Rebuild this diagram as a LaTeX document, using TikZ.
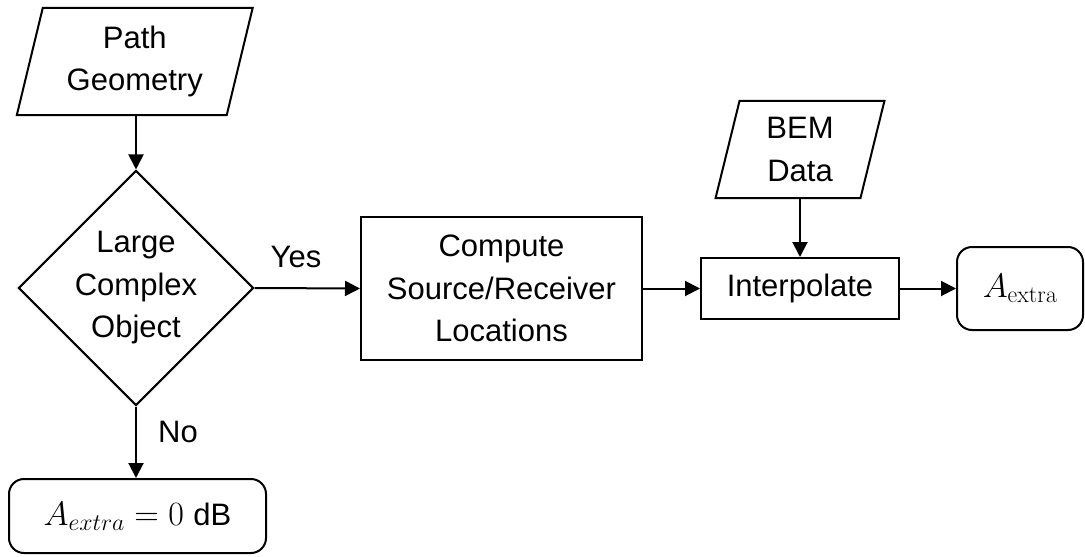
\RequirePackage{fix-cm}
\documentclass[tikz,border=0pt]{standalone}
\usepackage[no-math]{fontspec}
\setmainfont{Liberation Sans}
\usetikzlibrary{shapes.geometric,arrows.meta}
\begin{document}
\begin{tikzpicture}[x=1pt,y=-1pt,
  every node/.style={font=\fontsize{31}{42.5}\selectfont, align=center, inner sep=0pt},
  mathfont/.style={font=\fontsize{34}{42.5}\selectfont},
  box/.style={draw, line width=2pt, rectangle},
  rbox/.style={box, rounded corners=15pt},
  iobox/.style={rectangle, draw=none},
  iopoly/.style={line width=2pt, line join=miter},
  dec/.style={draw, line width=2pt, diamond, aspect=1},
  arr/.style={line width=2pt, -{Triangle[length=15pt,width=15pt]}},
  lbl/.style={}]
\useasboundingbox (0,0) rectangle (1085,557);

% nodes
\node[iobox, minimum width=209.5pt, minimum height=107pt] (pg) at (134.75,61.5) {Path\\Geometry};
\draw[iopoly] ([xshift=-13pt]pg.south west) -- ([xshift=13pt]pg.north west) -- ([xshift=13pt]pg.north east) -- ([xshift=-13pt]pg.south east) -- cycle;

\node[dec, minimum width=231pt, minimum height=230pt] (dia) at (136,288) {Large\\Complex\\Object};

\node[box, minimum width=281pt, minimum height=143pt] (cmp) at (501.5,288.5) {Compute\\Source/Receiver\\Locations};

\node[iobox, minimum width=144.5pt, minimum height=97pt] (bem) at (800,149.5) {BEM\\Data};
\draw[iopoly] ([xshift=-12pt]bem.south west) -- ([xshift=12pt]bem.north west) -- ([xshift=12pt]bem.north east) -- ([xshift=-12pt]bem.south east) -- cycle;

\node[box, minimum width=198pt, minimum height=61pt] (itp) at (800,288.5) {Interpolate};

\node[rbox, mathfont, minimum width=126pt, minimum height=83pt] (aex) at (1020,288.5) {$A_{\mathrm{extra}}$};

\node[rbox, mathfont, minimum width=257pt, minimum height=74pt] (a0) at (137.5,516) {$A_{extra}=0$ {\fontsize{31}{42.5}\selectfont dB}};

% connectors
\draw[arr] (pg.south -| dia.north) -- (dia.north);
\draw[arr] (dia.east) -- (cmp.west);
\draw[arr] (cmp.east) -- (itp.west);
\draw[arr] (bem.south) -- (itp.north);
\draw[arr] (itp.east) -- (aex.west);
\draw[arr] (dia.south) -- (dia.south |- a0.north);

% labels
\node[lbl] (yes) at (296,257) {Yes};
\node[lbl] (no) at (178,432) {No};
\end{tikzpicture}
\end{document}
